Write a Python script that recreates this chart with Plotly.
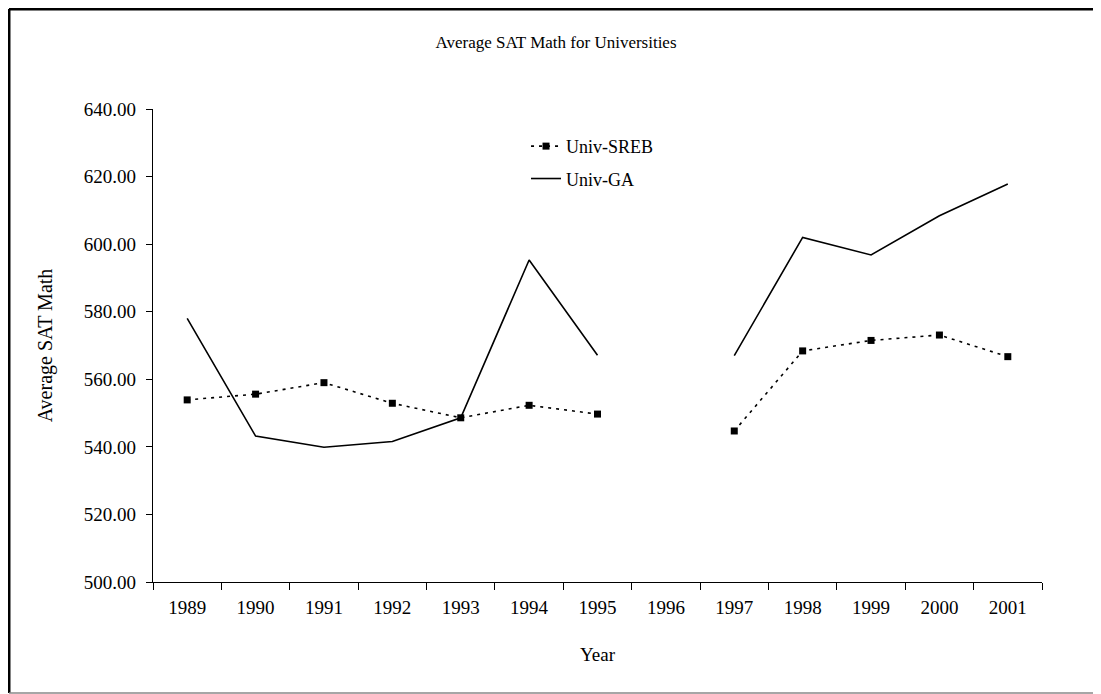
import plotly.graph_objects as go

years = ['1989', '1990', '1991', '1992', '1993', '1994', '1995',
         '1996', '1997', '1998', '1999', '2000', '2001']

# 1996 has no data -> gap in both lines
univ_sreb = [553.9, 555.6, 559.0, 552.9, 548.6, 552.3, 549.7,
             None, 544.7, 568.4, 571.5, 573.1, 566.7]
univ_ga = [578.0, 543.2, 539.9, 541.6, 548.6, 595.3, 567.1,
           None, 567.0, 602.0, 596.8, 608.4, 617.8]

y_ticks = [500, 520, 540, 560, 580, 600, 620, 640]

FONT = 'Times New Roman, Liberation Serif, serif'

fig = go.Figure()

fig.add_trace(go.Scatter(
    x=years,
    y=univ_sreb,
    name='Univ-SREB',
    mode='lines+markers',
    line=dict(color='black', width=1.6, dash='3px,5px'),
    marker=dict(symbol='square', size=7, color='black'),
    connectgaps=False,
    legendgroup='a'
))

fig.add_trace(go.Scatter(
    x=years,
    y=univ_ga,
    name='Univ-GA',
    mode='lines',
    line=dict(color='black', width=1.6),
    connectgaps=False,
    legendgroup='b'
))

# outer chart border (left/top thick, bottom thin grey, right cut off)
fig.add_shape(type='line', xref='paper', yref='paper',
              x0=-0.162, x1=1.2, y0=1.2114, y1=1.2114,
              line=dict(color='black', width=3))
fig.add_shape(type='line', xref='paper', yref='paper',
              x0=-0.162, x1=-0.162, y0=-0.2347, y1=1.2114,
              line=dict(color='black', width=3))
fig.add_shape(type='line', xref='paper', yref='paper',
              x0=-0.162, x1=1.2, y0=-0.2347, y1=-0.2347,
              line=dict(color='#888888', width=1.5))

fig.update_layout(
    width=1093,
    height=686,
    paper_bgcolor='white',
    plot_bgcolor='white',
    font=dict(family=FONT, size=18, color='black'),
    title=dict(
        text='Average SAT Math for Universities',
        x=548 / 1093, xref='container', xanchor='center',
        y=1 - 34 / 686, yref='container', yanchor='middle',
        font=dict(family=FONT, size=17, color='black')
    ),
    xaxis=dict(
        type='category',
        title=dict(text='Year', standoff=30,
                   font=dict(family=FONT, size=19)),
        range=[-0.5, 12.5],
        tickfont=dict(family=FONT, size=19, color='black'),
        ticklabelstandoff=8,
        showline=True, linecolor='black', linewidth=1.2,
        ticks='outside', ticklen=7, tickcolor='black',
        tickson='boundaries',
        showgrid=False, zeroline=False
    ),
    yaxis=dict(
        title=dict(text='Average SAT Math', standoff=25,
                   font=dict(family=FONT, size=20)),
        range=[500, 640],
        tickvals=y_ticks,
        tickformat='.2f',
        tickfont=dict(family=FONT, size=19, color='black'),
        ticklabelstandoff=6,
        showline=True, linecolor='black', linewidth=1.2,
        ticks='outside', ticklen=6, tickcolor='black',
        showgrid=False, zeroline=False
    ),
    legend=dict(
        x=0.4196, y=0.96, xanchor='left', yanchor='top',
        bgcolor='rgba(0,0,0,0)',
        font=dict(family=FONT, size=18, color='black'),
        traceorder='grouped',
        tracegroupgap=6
    ),
    margin=dict(l=145, r=59, t=101, b=112)
)

fig.write_html("out.html")
